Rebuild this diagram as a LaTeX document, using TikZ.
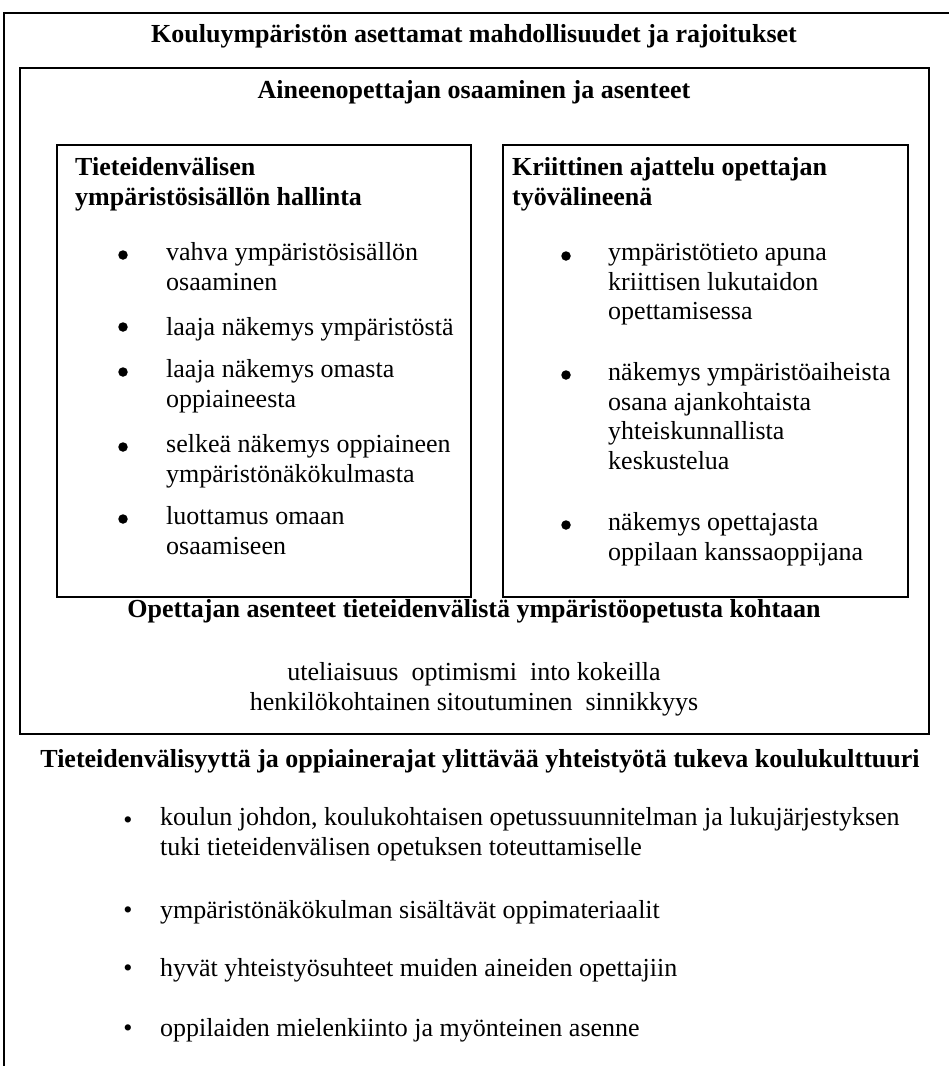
\documentclass[tikz,border=0pt]{standalone}
\usepackage{fontspec}
\setmainfont{Liberation Serif}
\usetikzlibrary{positioning}
\newcommand{\bodyfont}{\fontsize{26}{29.5}\selectfont}

\begin{document}
\begin{tikzpicture}[x=1pt, y=-1pt,
    frame/.style={line width=2.6pt},
    box/.style={line width=2.2pt},
    heading/.style={font=\bodyfont\bfseries, inner sep=0pt},
    item/.style={font=\bodyfont, align=left, anchor=north west, inner sep=0pt, execute at begin node=\strut},
    dot/.style={circle, fill=black, inner sep=0pt, minimum size=9.5pt},
    smalldot/.style={font=\bodyfont, inner sep=0pt, anchor=base}]
    \useasboundingbox (0,0) rectangle (949,1066);
    % frames
    \draw[frame] (949,13) -- (4,13) -- (4,1066);
    \draw[frame] (20,68) rectangle (929,734);
    \draw[box] (57,145) rectangle (471,597);
    \draw[box] (503,145) rectangle (908,597);
    % headings
    \node[heading, anchor=base] (env) at (474,42) {Kouluympäristön asettamat mahdollisuudet ja rajoitukset};
    \node[heading, anchor=base] (teacher) at (474,98) {Aineenopettajan osaaminen ja asenteet};
    \node[item, heading] (lhead) at (75,157.4) {Tieteidenvälisen\\ympäristösisällön hallinta};
    \node[item, heading] (rhead) at (512,157.4) {Kriittinen ajattelu opettajan\\työvälineenä};
    % left box items
    \node[item] (l1) at (166,242.4) {vahva ympäristösisällön\\osaaminen};
    \node[item] (l2) at (166,314.4) {laaja näkemys ympäristöstä};
    \node[item] (l3) at (166,359.4) {laaja näkemys omasta\\oppiaineesta};
    \node[item] (l4) at (166,434.4) {selkeä näkemys oppiaineen\\ympäristönäkökulmasta};
    \node[item] (l5) at (166,506.4) {luottamus omaan\\osaamiseen};
    \foreach \y in {255,327,372,447,519}
        \node[dot] at (123,\y) {};
    % right box items
    \node[item] (r1) at (608,243.4) {ympäristötieto apuna\\kriittisen lukutaidon\\opettamisessa};
    \node[item] (r2) at (608,362.4) {näkemys ympäristöaiheista\\osana ajankohtaista\\yhteiskunnallista\\keskustelua};
    \node[item] (r3) at (608,512.4) {näkemys opettajasta\\oppilaan kanssaoppijana};
    \foreach \y in {256,375,525}
        \node[dot] at (566,\y) {};
    % attitudes
    \node[heading, anchor=base] (att) at (474,617) {Opettajan asenteet tieteidenvälistä ympäristöopetusta kohtaan};
    \node[item, align=center, anchor=north] (attlist) at (474,662.4) {uteliaisuus\ \ optimismi\ \ into kokeilla\\henkilökohtainen sitoutuminen\ \ sinnikkyys};
    % school culture
    \node[heading, anchor=base] (culture) at (480,767) {Tieteidenvälisyyttä ja oppiainerajat ylittävää yhteistyötä tukeva koulukulttuuri};
    \node[item] (c1) at (160,807.4) {koulun johdon, koulukohtaisen opetussuunnitelman ja lukujärjestyksen\\tuki tieteidenvälisen opetuksen toteuttamiselle};
    \node[item] (c2) at (160,897.4) {ympäristönäkökulman sisältävät oppimateriaalit};
    \node[item] (c3) at (160,955.4) {hyvät yhteistyösuhteet muiden aineiden opettajiin};
    \node[item] (c4) at (160,1015.4) {oppilaiden mielenkiinto ja myönteinen asenne};
    \foreach \y in {828,918,976,1036}
        \node[smalldot] at (128,\y) {\textbullet};
\end{tikzpicture}
\end{document}
